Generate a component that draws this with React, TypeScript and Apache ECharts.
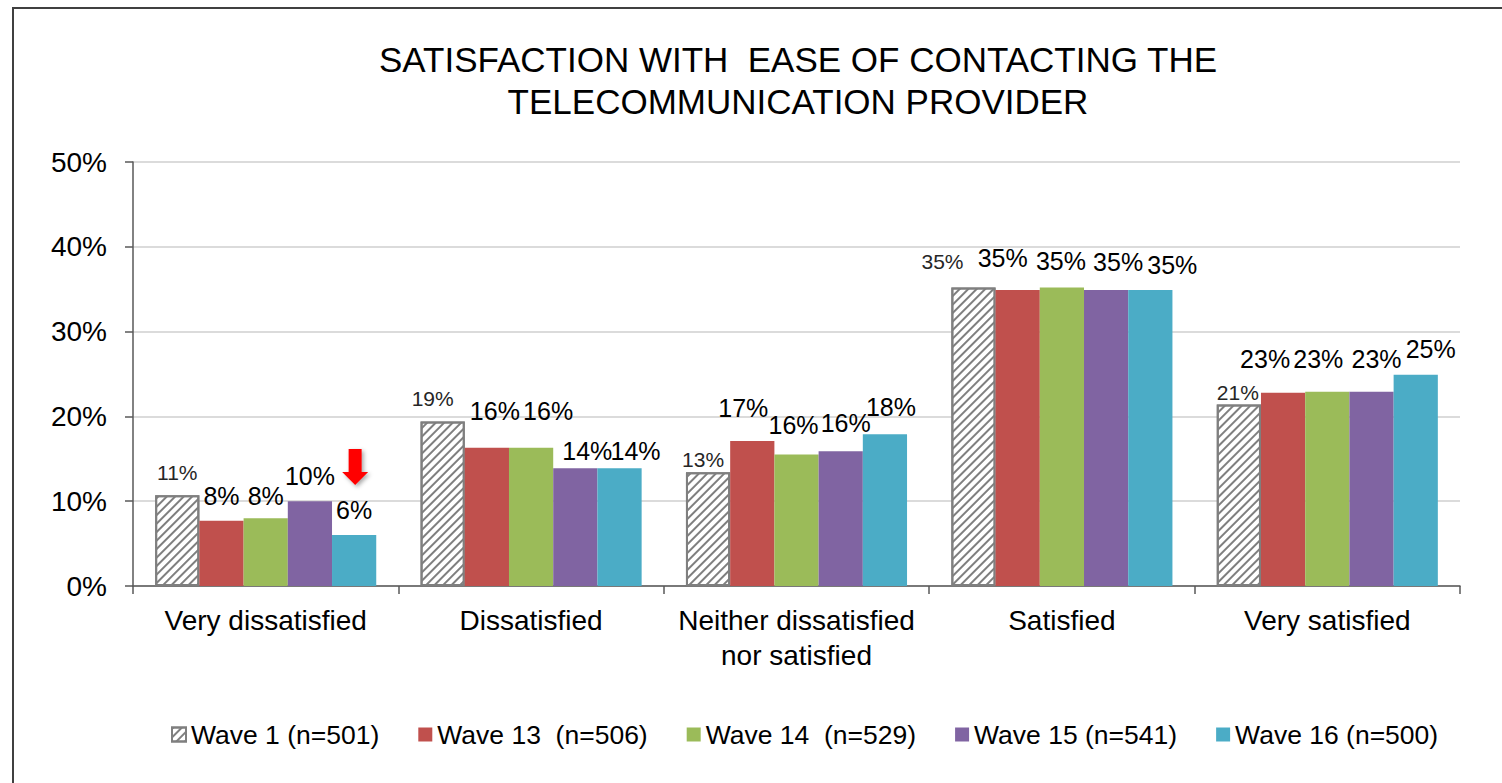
import React, { useEffect, useRef } from "react";
import * as echarts from "echarts";

const TITLE = "SATISFACTION WITH  EASE OF CONTACTING THE\nTELECOMMUNICATION PROVIDER";
const categories = [
  "Very dissatisfied",
  "Dissatisfied",
  "Neither dissatisfied\nnor satisfied",
  "Satisfied",
  "Very satisfied",
];
const seriesNames = [
  "Wave 1 (n=501)",
  "Wave 13  (n=506)",
  "Wave 14  (n=529)",
  "Wave 15 (n=541)",
  "Wave 16 (n=500)",
];
const wave1 = [10.7, 19.4, 13.4, 35.2, 21.4];
const wave13 = [7.7, 16.3, 17.1, 34.9, 22.8];
const wave14 = [8.0, 16.3, 15.5, 35.2, 22.9];
const wave15 = [10.0, 13.9, 15.9, 34.9, 22.9];
const wave16 = [6.0, 13.9, 17.9, 34.9, 24.9];
const yTicks = { min: 0, max: 50, interval: 10 };

// label nudges [dx, dy] per series / category (hand-placed labels in the original)
const labelNudge = [
  [[0, 0], [-10, 0], [-5, 10], [-31, -4], [-1, 10]],
  [[0, 0], [8, -12], [-9, -8], [-15, -8], [-18, -9]],
  [[0, 2], [17, -12], [-3, -5], [-1, -2], [-9, -8]],
  [[0, -1], [12, 7], [5, -4], [12, -4], [5, -8]],
  [[0, -1], [16, 7], [6, -3], [22, -1], [15, -1]],
];

const colors = ["#ffffff", "#C0504D", "#9BBB59", "#8064A2", "#4BACC6"];
const FONT = "'Liberation Sans', Arial, sans-serif";

export default function App() {
  const ref = useRef<HTMLDivElement>(null);
  useEffect(() => {
    document.body.style.margin = "0";
    const chart = echarts.init(ref.current!, null, { renderer: "svg" });
    const allData = [wave1, wave13, wave14, wave15, wave16];
    const frame = {
      id: "frame",
      type: "rect",
      shape: { x: 13, y: 8, width: 1600, height: 900 },
      style: { fill: "none", stroke: "#404040", lineWidth: 2 },
      silent: true,
      z: 100,
    };
    const series = allData.map((d, i) => ({
      name: seriesNames[i],
      type: "bar",
      data: d.map((v, j) => ({ value: v, label: { offset: labelNudge[i][j] } })),
      barGap: "0%",
      barCategoryGap: "16.7%",
      itemStyle:
        i === 0
          ? {
              color: "#ffffff",
              borderColor: "#7f7f7f",
              borderWidth: 2,
              decal: {
                symbol: "rect",
                symbolSize: 1,
                dashArrayX: [1, 0],
                dashArrayY: [2, 4],
                rotation: -Math.PI / 4,
                color: "#7f7f7f",
              },
            }
          : { color: colors[i], borderWidth: 0 },
      label: {
        show: true,
        position: "top",
        distance: 12,
        fontFamily: FONT,
        fontSize: i === 0 ? 21 : 25,
        color: i === 0 ? "#262626" : "#000000",
        formatter: (p: any) => Math.round(p.value) + "%",
      },
    }));
    chart.setOption({
      animation: false,
      backgroundColor: "#ffffff",
      textStyle: { fontFamily: FONT },
      title: {
        text: TITLE,
        left: 793,
        top: 33,
        textAlign: "center",
        textStyle: {
          fontFamily: FONT,
          fontSize: 35,
          fontWeight: "normal",
          lineHeight: 42,
          color: "#000",
        },
      },
      legend: {
        left: 166,
        top: 716,
        itemWidth: 14,
        itemHeight: 14,
        itemGap: 39,
        icon: "rect",
        textStyle: { fontFamily: FONT, fontSize: 26.5, color: "#000" },
        data: seriesNames,
      },
      grid: { left: 133, right: 42, top: 162, bottom: 197, containLabel: false },
      xAxis: {
        type: "category",
        data: categories,
        axisLine: { show: true, lineStyle: { color: "#595959", width: 1.5 } },
        axisTick: { show: true, length: 8, lineStyle: { color: "#595959", width: 1.5 } },
        axisLabel: {
          fontFamily: FONT,
          fontSize: 28,
          lineHeight: 35,
          color: "#000",
          margin: 17,
          interval: 0,
        },
      },
      yAxis: {
        type: "value",
        min: yTicks.min,
        max: yTicks.max,
        interval: yTicks.interval,
        axisLine: { show: true, lineStyle: { color: "#595959", width: 1.5 } },
        axisTick: { show: true, length: 8, lineStyle: { color: "#595959", width: 1.5 } },
        splitLine: { show: true, lineStyle: { color: "#cfcfcf", width: 1.5 } },
        axisLabel: {
          fontFamily: FONT,
          fontSize: 28,
          color: "#000",
          margin: 26,
          formatter: "{value}%",
        },
      },
      series,
      graphic: [frame],
    });

    // red arrow annotation above the Wave 16 bar of the first category
    let cx = 354;
    let topY = 535;
    try {
      const data = (chart as any).getModel().getSeriesByIndex(4).getData();
      const l = data.getItemLayout(0);
      cx = l.x + l.width / 2;
      topY = Math.min(l.y, l.y + l.height);
    } catch (e) {
      const p = chart.convertToPixel({ gridIndex: 0 } as any, [0, wave16[0]]) as number[];
      topY = p[1];
    }
    const tipY = topY - 50;
    chart.setOption({
      graphic: [
        frame,
        {
          id: "arrow",
          type: "polygon",
          x: cx + 1,
          y: tipY,
          shape: {
            points: [
              [-6.5, -36],
              [6.5, -36],
              [6.5, -13],
              [13, -13],
              [0, 0],
              [-13, -13],
              [-6.5, -13],
            ],
          },
          style: {
            fill: "#FF0000",
            shadowBlur: 4,
            shadowColor: "rgba(0,0,0,0.35)",
            shadowOffsetX: 2,
            shadowOffsetY: 2,
          },
          z: 100,
        },
      ],
    });
    return () => chart.dispose();
  }, []);
  return (
    <div
      ref={ref}
      style={{ position: "fixed", left: 0, top: 0, width: 1502, height: 783, background: "#fff" }}
    />
  );
}
